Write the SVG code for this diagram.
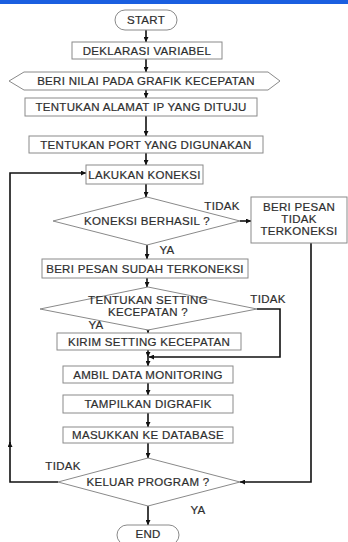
<svg xmlns="http://www.w3.org/2000/svg" width="348" height="542" viewBox="0 0 348 542">
  <style>
    .shape { fill: #ffffff; stroke: #8a8a8a; stroke-width: 1; }
    .lbl { font-family: "Liberation Sans", Arial, sans-serif; font-size: 11.5px; letter-spacing: 0.3px; fill: #2e2e2e; stroke: #2e2e2e; stroke-width: 0.2; text-anchor: middle; }
    .wire { fill: none; stroke: #111111; stroke-width: 1.6; }
  </style>
  <defs>
    <marker id="arrow" viewBox="0 0 10 10" refX="10" refY="5" markerWidth="5" markerHeight="5" markerUnits="userSpaceOnUse" orient="auto">
      <path d="M0,0 L10,5 L0,10 z" fill="#111111"/>
    </marker>
  </defs>

  <rect x="0" y="0" width="348" height="4" fill="#1a5fe0"/>

  <g id="connectors">
    <line class="wire" x1="146" y1="30" x2="146" y2="42" marker-end="url(#arrow)"/>
    <line class="wire" x1="146" y1="59" x2="146" y2="72" marker-end="url(#arrow)"/>
    <line class="wire" x1="146" y1="90" x2="146" y2="98" marker-end="url(#arrow)"/>
    <line class="wire" x1="146" y1="116" x2="146" y2="136" marker-end="url(#arrow)"/>
    <line class="wire" x1="146" y1="153" x2="146" y2="165" marker-end="url(#arrow)"/>
    <line class="wire" x1="146" y1="184" x2="146" y2="197" marker-end="url(#arrow)"/>
    <line class="wire" x1="240" y1="221" x2="251" y2="221" marker-end="url(#arrow)"/>
    <line class="wire" x1="147" y1="245" x2="147" y2="259" marker-end="url(#arrow)"/>
    <line class="wire" x1="147" y1="278" x2="147" y2="287" marker-end="url(#arrow)"/>
    <line class="wire" x1="148" y1="330" x2="148" y2="333" marker-end="url(#arrow)"/>
    <polyline class="wire" points="257,309 280,309 280,357 149,357" marker-end="url(#arrow)"/>
    <line class="wire" x1="148" y1="350" x2="148" y2="357" marker-end="url(#arrow)"/>
    <line class="wire" x1="148" y1="357" x2="148" y2="366" marker-end="url(#arrow)"/>
    <line class="wire" x1="148" y1="383" x2="148" y2="395" marker-end="url(#arrow)"/>
    <line class="wire" x1="148" y1="413" x2="148" y2="427" marker-end="url(#arrow)"/>
    <line class="wire" x1="148" y1="443" x2="148" y2="458" marker-end="url(#arrow)"/>
    <line class="wire" x1="148" y1="506" x2="148" y2="525" marker-end="url(#arrow)"/>
    <polyline class="wire" points="311,243 311,482 240,482" marker-end="url(#arrow)"/>
    <polyline class="wire" points="58,482 10,482 10,442" marker-end="url(#arrow)"/>
    <polyline class="wire" points="10,444 10,173 86,173" marker-end="url(#arrow)"/>
    <text class="lbl" x="222" y="210">TIDAK</text>
    <text class="lbl" x="167" y="254">YA</text>
    <text class="lbl" x="268" y="303">TIDAK</text>
    <text class="lbl" x="96" y="329">YA</text>
    <text class="lbl" x="63" y="470">TIDAK</text>
    <text class="lbl" x="198" y="514">YA</text>
  </g>

  <g id="start">
    <rect class="shape" x="115" y="10" width="62" height="20" rx="10"/>
    <text class="lbl" x="146" y="24">START</text>
  </g>
  <g id="deklarasi">
    <rect class="shape" x="72" y="42" width="150" height="17"/>
    <text class="lbl" x="147" y="54.5">DEKLARASI VARIABEL</text>
  </g>
  <g id="beri-nilai">
    <polygon class="shape" points="9,81 24,72 268,72 280,81 268,90 24,90"/>
    <text class="lbl" x="146" y="85">BERI NILAI PADA GRAFIK KECEPATAN</text>
  </g>
  <g id="alamat-ip">
    <rect class="shape" x="25" y="98" width="232" height="18"/>
    <text class="lbl" x="141" y="111">TENTUKAN ALAMAT IP YANG DITUJU</text>
  </g>
  <g id="port">
    <rect class="shape" x="29" y="136" width="234" height="17"/>
    <text class="lbl" x="146" y="148.5">TENTUKAN PORT YANG DIGUNAKAN</text>
  </g>
  <g id="koneksi">
    <rect class="shape" x="86" y="165" width="117" height="19"/>
    <text class="lbl" x="144.5" y="178.5">LAKUKAN KONEKSI</text>
  </g>
  <g id="cek-koneksi">
    <polygon class="shape" points="147,197 240,221 147,245 53,221"/>
    <text class="lbl" x="147" y="225">KONEKSI BERHASIL ?</text>
  </g>
  <g id="gagal">
    <rect class="shape" x="251" y="197" width="96" height="46"/>
    <text class="lbl" x="299" y="211">BERI PESAN</text>
    <text class="lbl" x="299" y="223">TIDAK</text>
    <text class="lbl" x="299" y="235">TERKONEKSI</text>
  </g>
  <g id="sukses">
    <rect class="shape" x="42" y="259" width="206" height="19"/>
    <text class="lbl" x="145" y="272.5">BERI PESAN SUDAH TERKONEKSI</text>
  </g>
  <g id="cek-setting">
    <polygon class="shape" points="148,287 257,309 148,330 40,309"/>
    <text class="lbl" x="148" y="304">TENTUKAN SETTING</text>
    <text class="lbl" x="148" y="316">KECEPATAN ?</text>
  </g>
  <g id="kirim">
    <rect class="shape" x="57" y="333" width="184" height="17"/>
    <text class="lbl" x="149" y="345.5">KIRIM SETTING KECEPATAN</text>
  </g>
  <g id="ambil">
    <rect class="shape" x="63" y="366" width="170" height="17"/>
    <text class="lbl" x="148" y="378.5">AMBIL DATA MONITORING</text>
  </g>
  <g id="tampilkan">
    <rect class="shape" x="63" y="395" width="170" height="18"/>
    <text class="lbl" x="148" y="408">TAMPILKAN DIGRAFIK</text>
  </g>
  <g id="database">
    <rect class="shape" x="63" y="427" width="170" height="16"/>
    <text class="lbl" x="148" y="439">MASUKKAN KE DATABASE</text>
  </g>
  <g id="keluar">
    <polygon class="shape" points="148,458 240,482 148,506 58,482"/>
    <text class="lbl" x="148" y="486">KELUAR PROGRAM ?</text>
  </g>
  <g id="end">
    <rect class="shape" x="117" y="525" width="62" height="20" rx="10"/>
    <text class="lbl" x="148" y="538">END</text>
  </g>
</svg>
